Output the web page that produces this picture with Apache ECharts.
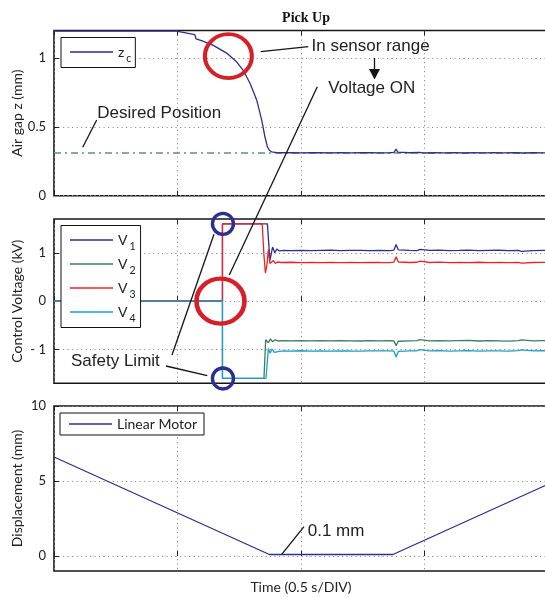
<!DOCTYPE html>
<html><head><meta charset="utf-8">
<script src="https://cdn.jsdelivr.net/npm/echarts@6/dist/echarts.min.js"></script>
<style>html,body{margin:0;padding:0;background:#fff}#c{width:545px;height:597px}</style>
</head><body><div id="c"></div>
<script>
// ---------- data (time in s, 0.5 s per division) ----------
const titleText = 'Pick Up';
const yTicksGap = [0, 0.5, 1];
const yTicksVolt = [-1, 0, 1];
const yTicksDisp = [0, 5, 10];

const zcData = [[0,1.196],[0.496,1.196],[0.5,1.184],[0.57,1.17],[0.575,1.14],[0.6,1.125],[0.645,1.092],[0.699,1.036],[0.74,0.971],[0.766,0.911],[0.794,0.815],[0.821,0.693],[0.841,0.549],[0.854,0.428],[0.864,0.355],[0.872,0.33],[0.881,0.319],[0.902,0.313],[0.93,0.312],[0.96,0.313],[1.0,0.311],[1.04,0.312],[1.08,0.313],[1.12,0.311],[1.16,0.312],[1.2,0.311],[1.24,0.313],[1.28,0.312],[1.32,0.311],[1.36,0.312],[1.376,0.314],[1.385,0.338],[1.392,0.316],[1.4,0.31],[1.44,0.312],[1.48,0.314],[1.5,0.31],[1.54,0.312],[1.58,0.311],[1.62,0.313],[1.66,0.31],[1.7,0.312],[1.74,0.311],[1.78,0.313],[1.82,0.311],[1.86,0.312],[1.9,0.31],[1.94,0.312],[1.98,0.311],[2.0,0.312]];
const desiredData = [[0,0.31],[2,0.31]];

const v1Data = [[0,0],[0.682,0],[0.682,1.6],[0.864,1.6],[0.874,0.84],[0.885,1.12],[0.894,1.0],[0.902,1.08],[0.912,1.04],[0.93,1.05],[0.96,1.045],[1.0,1.052],[1.04,1.044],[1.08,1.05],[1.12,1.054],[1.16,1.045],[1.2,1.05],[1.24,1.052],[1.28,1.046],[1.32,1.05],[1.36,1.047],[1.376,1.055],[1.385,1.17],[1.394,1.06],[1.402,1.04],[1.44,1.05],[1.47,1.045],[1.482,1.07],[1.49,1.04],[1.52,1.05],[1.56,1.055],[1.6,1.045],[1.64,1.05],[1.68,1.056],[1.72,1.044],[1.76,1.05],[1.8,1.053],[1.84,1.046],[1.88,1.05],[1.893,1.03],[1.9,1.06],[1.94,1.047],[1.98,1.052],[2.0,1.05]];
const v2Data = [[0,0],[0.682,0],[0.682,-1.6],[0.85,-1.6],[0.857,-0.8],[0.862,-0.76],[0.868,-0.86],[0.876,-0.78],[0.885,-0.84],[0.895,-0.8],[0.91,-0.825],[0.93,-0.815],[0.96,-0.822],[1.0,-0.815],[1.04,-0.824],[1.08,-0.818],[1.12,-0.822],[1.16,-0.815],[1.2,-0.82],[1.24,-0.825],[1.28,-0.816],[1.32,-0.82],[1.36,-0.818],[1.376,-0.825],[1.385,-0.92],[1.394,-0.83],[1.402,-0.81],[1.44,-0.82],[1.47,-0.815],[1.482,-0.795],[1.49,-0.83],[1.52,-0.82],[1.56,-0.815],[1.6,-0.824],[1.64,-0.818],[1.68,-0.812],[1.72,-0.825],[1.76,-0.818],[1.8,-0.82],[1.84,-0.826],[1.88,-0.815],[1.893,-0.8],[1.9,-0.83],[1.94,-0.82],[1.98,-0.815],[2.0,-0.82]];
const v3Data = [[0,0],[0.682,0],[0.682,1.6],[0.843,1.6],[0.85,0.95],[0.856,0.58],[0.862,0.75],[0.868,1.07],[0.874,0.78],[0.881,0.74],[0.888,0.84],[0.896,0.78],[0.905,0.81],[0.92,0.8],[0.96,0.805],[1.0,0.797],[1.04,0.803],[1.08,0.798],[1.12,0.804],[1.16,0.797],[1.2,0.802],[1.24,0.798],[1.28,0.804],[1.32,0.8],[1.36,0.798],[1.376,0.806],[1.385,0.92],[1.394,0.81],[1.402,0.795],[1.44,0.8],[1.47,0.805],[1.482,0.83],[1.49,0.795],[1.52,0.8],[1.56,0.806],[1.6,0.797],[1.64,0.803],[1.68,0.798],[1.72,0.805],[1.76,0.797],[1.8,0.802],[1.84,0.798],[1.88,0.804],[1.893,0.785],[1.9,0.81],[1.94,0.8],[1.98,0.804],[2.0,0.8]];
const v4Data = [[0,0],[0.682,0],[0.682,-1.6],[0.858,-1.6],[0.868,-0.98],[0.875,-1.08],[0.883,-0.99],[0.892,-1.06],[0.9,-1.02],[0.912,-1.04],[0.93,-1.03],[0.96,-1.035],[1.0,-1.026],[1.04,-1.034],[1.08,-1.028],[1.12,-1.033],[1.16,-1.027],[1.2,-1.032],[1.24,-1.036],[1.28,-1.027],[1.32,-1.031],[1.36,-1.029],[1.376,-1.035],[1.385,-1.155],[1.394,-1.04],[1.402,-1.022],[1.44,-1.03],[1.47,-1.026],[1.482,-1.005],[1.49,-1.04],[1.52,-1.03],[1.56,-1.025],[1.6,-1.034],[1.64,-1.028],[1.68,-1.022],[1.72,-1.035],[1.76,-1.028],[1.8,-1.03],[1.84,-1.036],[1.88,-1.025],[1.893,-1.01],[1.9,-1.04],[1.94,-1.03],[1.98,-1.025],[2.0,-1.03]];

const motorData = [[0,6.6],[0.872,0.1],[1.372,0.1],[2.0,4.78]];

// annotation anchors (data coords)
const sensorCircle = [0.706, 1.014];
const voltCircle = [0.674, 0];
const limitCircles = [[0.684, 1.6], [0.684, -1.6]];

// ---------- styles ----------
const NAVY = '#2c2f8e', GREEN = '#3e7d5c', RED = '#e8232b', CYAN = '#1b9fc8', DES = '#5b9476';
const LBL = 'Lato, "Liberation Sans", sans-serif';
const ANN = '"Liberation Sans", Arial, sans-serif';
const INK = '#222';

const chart = echarts.init(document.getElementById('c'), null, {renderer: 'canvas'});

const grids = [
  {left: 54, width: 494, top: 30.5, height: 165.2},
  {left: 54, width: 494, top: 219, height: 164.3},
  {left: 54, width: 494, top: 406, height: 165}
].map(g => Object.assign(g, {show: true, borderColor: '#161616', borderWidth: 1.6,
  backgroundColor: 'transparent', containLabel: false, outerBoundsMode: 'none'}));

function xAx(i, extra) {
  return Object.assign({
    gridIndex: i, type: 'value', min: 0, max: 2, interval: 0.5,
    axisLine: {show: false}, axisLabel: {show: false},
    axisTick: {show: true, inside: true, length: 5, lineStyle: {color: '#222', width: 1}},
    splitLine: {show: true, lineStyle: {color: '#8c8c8c', width: 1, type: [1.2, 3.3]}}
  }, extra || {});
}
function xTop(i) {
  return {gridIndex: i, type: 'value', min: 0, max: 2, interval: 0.5, position: 'top',
    axisLine: {show: false}, axisLabel: {show: false}, splitLine: {show: false},
    axisTick: {show: true, inside: true, length: 5, lineStyle: {color: '#222', width: 1}}};
}
function yAx(i, min, max, ticks, name) {
  return {
    gridIndex: i, type: 'value', min: min, max: max,
    name: name, nameLocation: 'middle', nameGap: 30, nameRotate: 90, nameMoveOverlap: false,
    nameTextStyle: {fontFamily: LBL, fontSize: 14, color: INK},
    axisLine: {show: false},
    axisTick: {show: true, inside: true, length: 5, customValues: ticks, lineStyle: {color: '#222'}},
    axisLabel: {customValues: ticks, fontFamily: LBL, fontSize: 13, color: INK, margin: 8,
      formatter: v => v < 0 ? '- ' + Math.abs(v) : String(v)},
    splitLine: {show: true, lineStyle: {color: '#8c8c8c', width: 1, type: [1.2, 3.3]}}
  };
}

const subRich = {
  b: {fontFamily: LBL, fontSize: 14, color: INK, lineHeight: 16},
  s: {fontFamily: LBL, fontSize: 10.5, color: INK, lineHeight: 10, padding: [14, 0, 0, 2]}
};
const legendBase = {
  orient: 'vertical', icon: 'rect', itemWidth: 43, itemHeight: 1.4,
  borderColor: '#111', borderWidth: 1, backgroundColor: '#fff', borderRadius: 0,
  selectedMode: false
};

function lineSeries(name, data, color, xi, yi, extra) {
  return Object.assign({
    name: name, type: 'line', data: data, xAxisIndex: xi, yAxisIndex: yi,
    showSymbol: false, symbol: 'none', lineStyle: {color: color, width: 1.3},
    itemStyle: {color: color}, animation: false, clip: true
  }, extra || {});
}
function ring(coords, size, color, w) {
  return {symbol: 'circle', symbolSize: size, silent: true, animation: false,
    itemStyle: {color: 'rgba(0,0,0,0)', borderColor: color, borderWidth: w},
    label: {show: false}, data: coords.map(c => ({coord: c}))};
}

const option = {
  animation: false,
  backgroundColor: '#fff',
  title: {text: titleText, left: 301, top: 6, textAlign: 'center',
    textStyle: {fontFamily: '"Liberation Serif", "Times New Roman", serif', fontWeight: 'bold', fontSize: 14, color: '#111'}},
  grid: grids,
  xAxis: [xAx(0), xAx(1), xAx(2, {name: 'Time (0.5 s/DIV)', nameLocation: 'middle', nameGap: 9,
      nameTextStyle: {fontFamily: LBL, fontSize: 14, color: INK, verticalAlign: 'top'}}),
    xTop(0), xTop(1), xTop(2)],
  yAxis: [yAx(0, 0, 1.2, yTicksGap, 'Air gap z (mm)'),
          yAx(1, -1.7, 1.7, yTicksVolt, 'Control Voltage (kV)'),
          yAx(2, -1, 10, yTicksDisp, 'Displacement (mm)')],
  legend: [
    Object.assign({}, legendBase, {data: ['zc'], left: 61, top: 37.5, padding: [2, 4, 3, 9],
      formatter: n => '{b|' + n[0] + '}{s|' + n.slice(1) + '}', textStyle: {rich: subRich}}),
    Object.assign({}, legendBase, {data: ['V1', 'V2', 'V3', 'V4'], left: 61, top: 225.5, itemGap: -1,
      padding: [2, 5, 3, 9],
      formatter: n => '{b|' + n[0] + '}{s|' + n.slice(1) + '}', textStyle: {rich: subRich}}),
    Object.assign({}, legendBase, {data: ['Linear Motor'], left: 60, top: 413, padding: [4, 7, 4, 9],
      textStyle: {fontFamily: LBL, fontSize: 14, color: INK}})
  ],
  series: [
    lineSeries('Desired', desiredData, DES, 0, 0, {lineStyle: {color: DES, width: 1.3, type: [7, 4, 2, 4]}}),
    lineSeries('zc', zcData, NAVY, 0, 0, {markPoint: ring([sensorCircle], [47, 44], '#d71f27', 4)}),
    lineSeries('V1', v1Data, NAVY, 1, 1),
    lineSeries('V2', v2Data, GREEN, 1, 1),
    lineSeries('V3', v3Data, RED, 1, 1, {markPoint: ring([voltCircle], [48, 45], '#d71f27', 4.5)}),
    lineSeries('V4', v4Data, CYAN, 1, 1, {markPoint: ring(limitCircles, 21, '#2b2f91', 3.4)}),
    lineSeries('Linear Motor', motorData, NAVY, 2, 2)
  ]
};
chart.setOption(option);

// ---------- annotations ----------
function txt(x, y, s) {
  return {type: 'text', x: x, y: y, z: 100, silent: true,
    style: {text: s, font: '17px ' + ANN, fill: INK, textAlign: 'left', textVerticalAlign: 'middle'}};
}
function seg(x1, y1, x2, y2) {
  return {type: 'line', z: 100, silent: true, shape: {x1: x1, y1: y1, x2: x2, y2: y2},
    style: {stroke: '#151515', lineWidth: 1.3}};
}
chart.setOption({graphic: [
  txt(311.5, 46, 'In sensor range'), seg(260.7, 51.7, 308.3, 46.7),
  seg(374.5, 58, 374.5, 70), {type: 'polygon', z: 100, silent: true,
    shape: {points: [[369, 69], [380, 69], [374.5, 79.5]]}, style: {fill: '#151515'}},
  txt(328.3, 88.3, 'Voltage ON'), seg(317.3, 86.7, 229.3, 275),
  txt(97.3, 113.3, 'Desired Position'), seg(82.7, 147.3, 96.7, 120),
  txt(71, 361.7, 'Safety Limit'), seg(172, 355, 214, 234.3), seg(166, 366, 207.3, 375.7),
  txt(307.7, 531.7, '0.1 mm'), seg(281.7, 554.3, 304, 526.7)
]});
</script>
</body></html>
